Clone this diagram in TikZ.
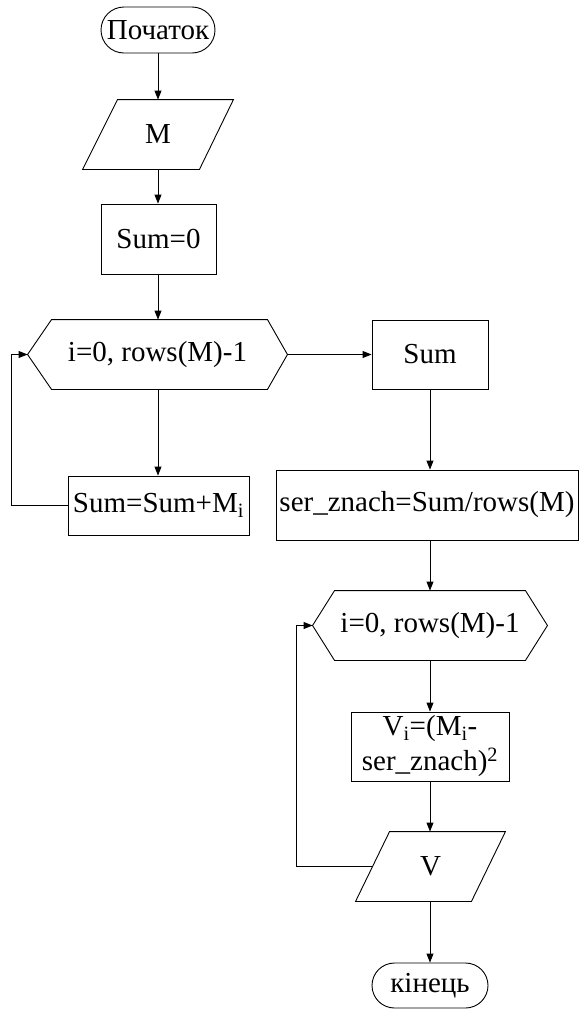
\documentclass[tikz,border=0pt]{standalone}
\usepackage{fontspec}
\setmainfont{Liberation Serif}
\usetikzlibrary{arrows.meta,shapes.misc}
\begin{document}
\begin{tikzpicture}[x=1pt,y=-1pt,
  line width=0.9pt,
  font=\fontsize{29}{35}\selectfont,
  box/.style={draw, rectangle, inner sep=0pt, align=center},
  ghost/.style={rectangle, inner sep=0pt, align=center},
  pill/.style={draw, rounded rectangle, inner sep=0pt},
  arr/.style={-{Triangle[length=9pt,width=7pt]}}
]
\useasboundingbox (0,0) rectangle (579,1010);

% nodes
\node[pill, minimum width=114pt, minimum height=46pt] (start) at (158,30) {Початок};
\node[ghost, minimum width=150pt, minimum height=69pt] (m) at (158,134.5) {M};
\node[box, minimum width=115pt, minimum height=70pt] (sum0) at (158.5,239) {Sum=0};
\node[ghost, minimum width=259pt, minimum height=69pt] (h1) at (157.5,354.5) {i=0, rows(M)-1};
\node[box, minimum width=116pt, minimum height=69pt] (sumbox) at (430,354.5) {Sum};
\node[box, minimum width=181pt, minimum height=59pt] (summ) at (158.5,505.5) {Sum=Sum+M\textsubscript{i}};
\node[box, minimum width=302pt, minimum height=70pt] (ser) at (427,505) {ser\_znach=Sum/rows(M)};
\node[ghost, minimum width=234pt, minimum height=69pt] (h2) at (430,625.5) {i=0, rows(M)-1};
\node[box, minimum width=158pt, minimum height=69pt] (vi) at (430,746.5) {V\textsubscript{i}=(M\textsubscript{i}-\\ser\_znach)\textsuperscript{2}};
\node[ghost, minimum width=149pt, minimum height=69pt] (v) at (430.5,866.5) {V};
\node[pill, minimum width=116pt, minimum height=45pt] (end) at (430,985.5) {кінець};

% custom outlines
\draw ([xshift=35pt]m.north west) -- (m.north east) -- ([xshift=-34pt]m.south east) -- (m.south west) -- cycle;
\draw ([xshift=34pt]v.north west) -- (v.north east) -- ([xshift=-34pt]v.south east) -- (v.south west) -- cycle;
\draw (h1.west) -- ([xshift=24pt]h1.north west) -- ([xshift=-20pt]h1.north east) -- (h1.east)
      -- ([xshift=-20pt]h1.south east) -- ([xshift=24pt]h1.south west) -- cycle;
\draw (h2.west) -- ([xshift=22pt]h2.north west) -- ([xshift=-22pt]h2.north east) -- (h2.east)
      -- ([xshift=-22pt]h2.south east) -- ([xshift=22pt]h2.south west) -- cycle;

\coordinate (vl) at ([xshift=17pt]v.west);
\coordinate (loop1) at (11,0);
\coordinate (loop2) at (296,0);

% connectors
\draw[arr] (start.south) -- (m.north);
\draw[arr] (m.south) -- (m.south |- sum0.north);
\draw[arr] (sum0.south -| m.south) -- (h1.north -| m.south);
\draw[arr] (h1.east) -- (sumbox.west);
\draw[arr] (sumbox.south) -- (sumbox.south |- ser.north);
\draw[arr] (h1.south -| m.south) -- (summ.north -| m.south);
\draw[arr] (summ.west) -- (summ.west -| loop1) -- (loop1 |- h1.west) -- (h1.west);
\draw[arr] (h2.north |- ser.south) -- (h2.north);
\draw[arr] (h2.south) -- (vi.north);
\draw[arr] (vi.south) -- (vi.south |- v.north);
\draw[arr] (vl) -- (vl -| loop2) -- (loop2 |- h2.west) -- (h2.west);
\draw[arr] (v.south -| end.north) -- (end.north);
\end{tikzpicture}
\end{document}
